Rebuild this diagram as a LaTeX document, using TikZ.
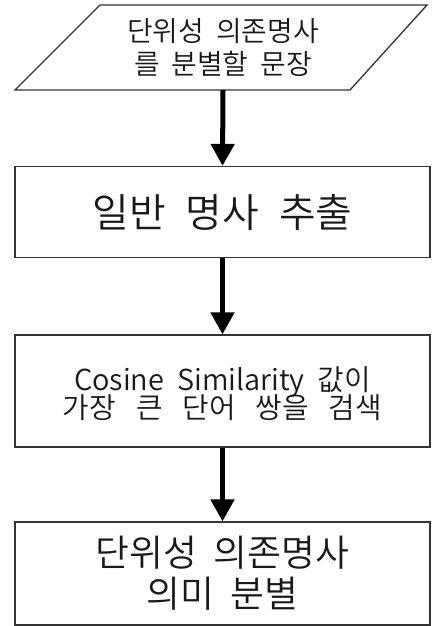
\documentclass[tikz,border=0pt]{standalone}
\usepackage{fontspec}
\setmainfont{Noto Sans CJK KR}[UprightFont=* DemiLight]
\usetikzlibrary{arrows.meta}
\newcommand{\txtsize}[3]{\fontsize{#1}{#2}\selectfont\spaceskip=#3bp\relax\lineskiplimit=-60bp\relax}
\begin{document}
\begin{tikzpicture}[x=1bp,y=-1bp,
  box/.style={draw=black!80, line width=1.3bp, minimum width=415bp, inner sep=0pt, align=center, text=black!90},
  conn/.style={line width=5bp, -{Triangle[width=23bp,length=22bp]}}
]
\useasboundingbox (0,0) rectangle (432,626);
% input parallelogram
\draw[draw=black!80, line width=1.3bp, line join=miter] (100,5) -- (427,5) -- (350,90) -- (15,90) -- cycle;
\node[inner sep=0pt, minimum width=250bp, minimum height=85bp, align=center, text=black!90,
      font=\txtsize{28}{34}{12}] (in) at (223,47.5) {단위성 의존명사\\를 분별할 문장};
% process boxes
\node[box, minimum height=91bp, font=\txtsize{40}{46}{20}] (gen) at (222.5,212) {일반 명사 추출};
\node[box, minimum height=112bp] (cos) at (222.5,391) {};
\node[inner sep=0pt, align=center, text=black!90, font=\txtsize{29}{28}{13}] (cost) at (222.5,394) {Cosine Similarity 값이\\{\spaceskip=20bp\relax 가장 큰 단어 쌍을 검색}};
\node[box, minimum height=103bp, font=\txtsize{37}{41}{16}] (out) at (222.5,573.5) {단위성 의존명사\\의미 분별};
% connectors
\draw[conn] (in.south) -- (gen.north);
\draw[conn] (gen.south) -- (cos.north);
\draw[conn] (cos.south) -- (out.north);
\end{tikzpicture}
\end{document}
